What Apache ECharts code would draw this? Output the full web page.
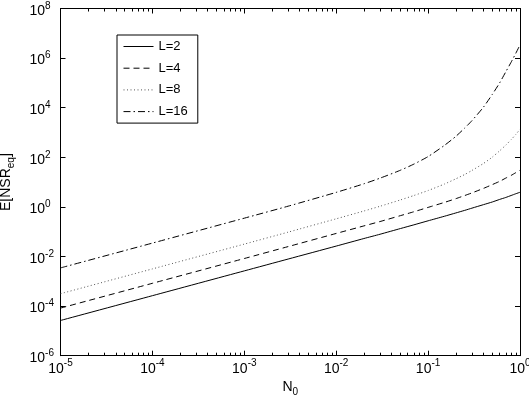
<!DOCTYPE html>
<html><head><meta charset="utf-8">
<script src="https://cdn.jsdelivr.net/npm/echarts@6/dist/echarts.min.js"></script>
<style>html,body{margin:0;padding:0;background:#fff}#c{width:529px;height:400px}</style>
</head><body><div id="c"></div>
<script>
// N0 sample points
const N0 = [1e-5, 1e-4, 1e-3, 3e-3, 1e-2, 2e-2, 3e-2, 5e-2, 0.07, 0.1, 0.15, 0.2, 0.25, 0.3, 0.4, 0.5, 0.6, 0.7, 0.8, 0.9, 1.0];
// E[NSR_eq] for each L
const L2  = [2.63e-5, 2.63e-4, 2.63e-3, 7.9e-3, 2.63e-2, 0.053, 0.079, 0.134, 0.189, 0.275, 0.418, 0.569, 0.724, 0.891, 1.23, 1.58, 2.0, 2.4, 2.88, 3.39, 3.89];
const L4  = [8.3e-5, 8.3e-4, 8.3e-3, 0.0251, 0.085, 0.171, 0.257, 0.444, 0.637, 0.955, 1.51, 2.14, 2.87, 3.67, 5.57, 7.94, 10.7, 14.5, 18.6, 24.0, 30.2];
const L8  = [3.16e-4, 3.16e-3, 3.16e-2, 0.096, 0.331, 0.682, 1.06, 1.91, 2.88, 4.57, 8.3, 13.5, 20.2, 29.5, 56.2, 102, 182, 309, 513, 832, 1350];
const L16 = [3.47e-3, 3.47e-2, 0.351, 1.07, 3.85, 8.53, 14.4, 30.1, 53.1, 107, 299, 693, 1507, 3000, 1.05e4, 3.46e4, 9.95e4, 2.79e5, 6.81e5, 1.56e6, 3.39e6];
const seriesNames = ['L=2', 'L=4', 'L=8', 'L=16'];
// tick values
const xMajorTicks = [1e-5, 1e-4, 1e-3, 1e-2, 1e-1, 1];
const xMinorMult = [2, 3, 4, 5, 6, 7, 8, 9];
const yMajorTicks = [1e-6, 1e-4, 1e-2, 1, 1e2, 1e4, 1e6, 1e8];

const xMinorTicks = [];
for (let i = 0; i < xMajorTicks.length - 1; i++) {
  xMinorMult.forEach(m => xMinorTicks.push(+(xMajorTicks[i] * m).toPrecision(3)));
}

const FONT = "'Liberation Sans', Arial, sans-serif";
function pow10Label(v) {
  const e = Math.round(Math.log10(v));
  return '{b|10}{s|' + e + '}';
}
const labelRich = {
  b: { fontSize: 14, lineHeight: 15, padding: [5, 0, 0, 0], fontFamily: FONT, color: '#000' },
  s: { fontSize: 10, lineHeight: 11, verticalAlign: 'top', fontFamily: FONT, color: '#000' }
};

function xAx(position, ticks, len, showLabel, showLine, extra) {
  return Object.assign({
    type: 'log', logBase: 10, min: 1e-5, max: 1, position: position,
    axisLine: { show: showLine, lineStyle: { color: '#000', width: 1 } },
    axisTick: { show: true, inside: true, length: len, customValues: ticks, lineStyle: { color: '#000', width: 1 } },
    axisLabel: showLabel ? { show: true, customValues: xMajorTicks, formatter: pow10Label, rich: labelRich, margin: 3, hideOverlap: false } : { show: false },
    splitLine: { show: false }, minorTick: { show: false }
  }, extra || {});
}
function yAx(position, showLabel, extra) {
  return Object.assign({
    type: 'log', logBase: 10, min: 1e-6, max: 1e8, position: position,
    axisLine: { show: true, lineStyle: { color: '#000', width: 1 } },
    axisTick: { show: true, inside: true, length: 5, customValues: yMajorTicks, lineStyle: { color: '#000', width: 1 } },
    axisLabel: showLabel ? { show: true, customValues: yMajorTicks, formatter: pow10Label, rich: labelRich, align: 'left', margin: 31 } : { show: false },
    splitLine: { show: false }, minorTick: { show: false }
  }, extra || {});
}

const seriesData = [L2, L4, L8, L16];
const dashTypes = ['solid', [6, 4], [1, 2.5], [7, 3, 1.5, 3]];
const colors = ['#000', '#000', '#555', '#000'];

const chart = echarts.init(document.getElementById('c'));
chart.setOption({
  animation: false,
  backgroundColor: '#fff',
  grid: { left: 60.5, right: 9, top: 8.5, bottom: 44.3, containLabel: false, outerBoundsMode: 'none' },
  legend: {
    orient: 'vertical', left: 117, top: 35,
    data: seriesNames,
    itemWidth: 30, itemHeight: 12, itemGap: 8.7,
    padding: [5, 10, 5, 6],
    borderColor: '#000', borderWidth: 1, backgroundColor: '#fff',
    itemStyle: { opacity: 0 },
    lineStyle: { width: 1 },
    textStyle: { fontSize: 13, fontFamily: FONT, color: '#000' }
  },
  xAxis: [
    xAx('bottom', xMajorTicks, 5, true, true, {
      name: '{a|N}{s|0}', nameLocation: 'middle', nameGap: 24,
      nameTextStyle: { rich: {
        a: { fontSize: 14, lineHeight: 15, padding: [0, 0, 5, 0], fontFamily: FONT, color: '#000' },
        s: { fontSize: 10, lineHeight: 11, verticalAlign: 'bottom', fontFamily: FONT, color: '#000' }
      } }
    }),
    xAx('bottom', xMinorTicks, 3, false, false),
    xAx('top', xMajorTicks, 5, false, true),
    xAx('top', xMinorTicks, 3, false, false)
  ],
  yAxis: [
    yAx('left', true, {
      name: '{a|E[NSR}{s|eq}{a|]}', nameLocation: 'middle', nameGap: 36,
      nameTextStyle: { rich: {
        a: { fontSize: 14, lineHeight: 15, padding: [0, 0, 5, 0], fontFamily: FONT, color: '#000' },
        s: { fontSize: 10, lineHeight: 11, verticalAlign: 'bottom', fontFamily: FONT, color: '#000' }
      } }
    }),
    yAx('right', false)
  ],
  series: seriesNames.map((n, k) => ({
    name: n, type: 'line', xAxisIndex: 0, yAxisIndex: 0,
    data: N0.map((x, i) => [x, seriesData[k][i]]),
    symbol: 'none', showSymbol: false, smooth: 0.2,
    lineStyle: { color: colors[k], width: 1, type: dashTypes[k] },
    itemStyle: { color: colors[k] }
  }))
});
</script></body></html>
